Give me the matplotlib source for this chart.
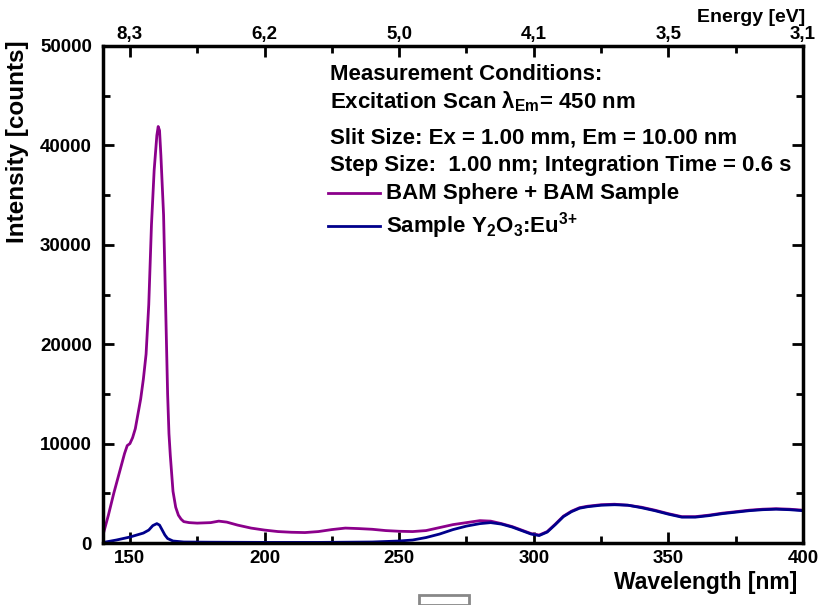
import matplotlib.pyplot as plt
from matplotlib.patches import Rectangle

plt.rcParams['font.family'] = ['Liberation Sans', 'DejaVu Sans']
plt.rcParams['font.weight'] = 'bold'
plt.rcParams['mathtext.fontset'] = 'custom'
plt.rcParams['mathtext.rm'] = 'Liberation Sans:bold'
plt.rcParams['mathtext.it'] = 'Liberation Sans:bold'
plt.rcParams['mathtext.bf'] = 'Liberation Sans:bold'

# BAM sphere + BAM sample (purple)
wl_sphere = [140, 142, 144, 146, 148, 149, 150, 151, 152, 153, 154, 155, 156, 157, 158,
             159, 160, 160.5, 161, 161.5, 162, 162.5, 163, 164, 164.5, 165, 166, 167, 168,
             169, 170, 172, 175, 180, 183, 186, 190, 195, 200, 205, 210, 215, 220, 225,
             230, 235, 240, 245, 250, 255, 260, 265, 270, 275, 280, 284, 288, 292, 296,
             299, 302, 305, 308, 311, 314, 317, 320, 325, 330, 335, 340, 345, 350, 355,
             360, 365, 370, 375, 380, 385, 390, 395, 400]
int_sphere = [800, 2800, 5000, 7000, 9000, 9800, 10000, 10600, 11500, 13000, 14500, 16500,
              19000, 24000, 32000, 37500, 41000, 41900, 41500, 39000, 36000, 33000, 27000,
              15000, 11000, 8800, 5200, 3600, 2800, 2400, 2150, 2050, 2000, 2050, 2200, 2100,
              1800, 1500, 1300, 1150, 1080, 1050, 1150, 1350, 1500, 1450, 1380, 1250, 1180,
              1150, 1250, 1550, 1850, 2050, 2250, 2200, 1950, 1650, 1250, 950, 800, 1150,
              1900, 2700, 3200, 3550, 3700, 3850, 3900, 3800, 3600, 3300, 2950, 2650, 2650,
              2800, 3000, 3150, 3300, 3400, 3450, 3400, 3300]

# Sample Y2O3:Eu3+ (blue)
wl_sample = [140, 145, 150, 155, 157, 158.5, 160, 161, 162, 163, 164, 166, 170, 180, 200,
             220, 240, 250, 255, 260, 265, 270, 275, 280, 284, 288, 292, 296, 299, 302, 305,
             308, 311, 314, 317, 320, 325, 330, 335, 340, 345, 350, 355, 360, 365, 370, 375,
             380, 385, 390, 395, 400]
int_sample = [50, 300, 600, 1000, 1300, 1750, 1950, 1800, 1300, 800, 450, 200, 100, 80, 60,
              60, 100, 200, 300, 550, 900, 1350, 1700, 1950, 2050, 1900, 1600, 1200, 900,
              750, 1100, 1850, 2650, 3150, 3500, 3650, 3800, 3850, 3800, 3550, 3250, 2900,
              2600, 2600, 2750, 2950, 3100, 3250, 3350, 3400, 3350, 3250]

wl_ticks = [150, 200, 250, 300, 350, 400]
energy_labels = ['8,3', '6,2', '5,0', '4,1', '3,5', '3,1']

fig = plt.figure(figsize=(8.19, 6.05), dpi=100)
ax = fig.add_axes([103 / 819, 1 - 543 / 605, 700 / 819, 497 / 605])

ax.plot(wl_sphere, int_sphere, color='#8B008B', lw=2)
ax.plot(wl_sample, int_sample, color='#00008B', lw=2)

ax.set_xlim(140, 400)
ax.set_ylim(0, 50000)
ax.set_xticks(wl_ticks)
ax.set_xticks(range(175, 400, 50), minor=True)
ax.set_yticks(range(0, 50001, 10000))
ax.set_yticks(range(5000, 50000, 10000), minor=True)
ax.tick_params(which='both', direction='in', width=2, labelsize=13.5, right=True)
ax.tick_params(which='major', length=8)
ax.tick_params(which='minor', length=5)
ax.tick_params(axis='y', pad=8)
ax.tick_params(axis='x', pad=5)
for s in ax.spines.values():
    s.set_linewidth(2.5)

# top energy axis
top = ax.twiny()
top.set_xlim(140, 400)
top.set_xticks(wl_ticks)
top.set_xticklabels(energy_labels)
top.set_xticks(range(175, 400, 50), minor=True)
top.tick_params(which='both', direction='in', width=2, labelsize=13.5, pad=2)
top.tick_params(which='major', length=8)
top.tick_params(which='minor', length=5)

fig.text(797 / 819, 1 - 583 / 605, 'Wavelength [nm]', ha='right', va='center', fontsize=16.5, fontweight='bold')
fig.text(805 / 819, 1 - 18 / 605, 'Energy [eV]', ha='right', va='center', fontsize=14, fontweight='bold')
fig.text(18 / 819, 1 - 142 / 605, 'Intensity [counts]', rotation=90, ha='center', va='center',
         fontsize=17.5, fontweight='bold')

# measurement info / legend block
info = ['Measurement Conditions:',
        r'Excitation Scan λ$_{\mathrm{Em}}$= 450 nm',
        'Slit Size: Ex = 1.00 mm, Em = 10.00 nm',
        'Step Size:  1.00 nm; Integration Time = 0.6 s']
info_y = [75, 102, 138, 165]
for txt, y in zip(info, info_y):
    fig.text(330 / 819, 1 - y / 605, txt, ha='left', va='center', fontsize=16, fontweight='bold')

leg_labels = ['BAM Sphere + BAM Sample', r'Sample Y$_2$O$_3$:Eu$^{3\!+}$']
leg_colors = ['#8B008B', '#00008B']
leg_y = [193, 226]
for lab, c, y in zip(leg_labels, leg_colors, leg_y):
    fig.add_artist(plt.Line2D([328 / 819, 380 / 819], [1 - y / 605, 1 - y / 605], color=c, lw=2))
    fig.text(386 / 819, 1 - y / 605, lab, ha='left', va='center', fontsize=16, fontweight='bold')

# small grey box at the bottom edge
fig.add_artist(Rectangle((419 / 819, 0), 50 / 819, 10 / 605, transform=fig.transFigure,
                         fill=False, edgecolor='#888888', lw=2))

fig.savefig('out.png', dpi=100)
